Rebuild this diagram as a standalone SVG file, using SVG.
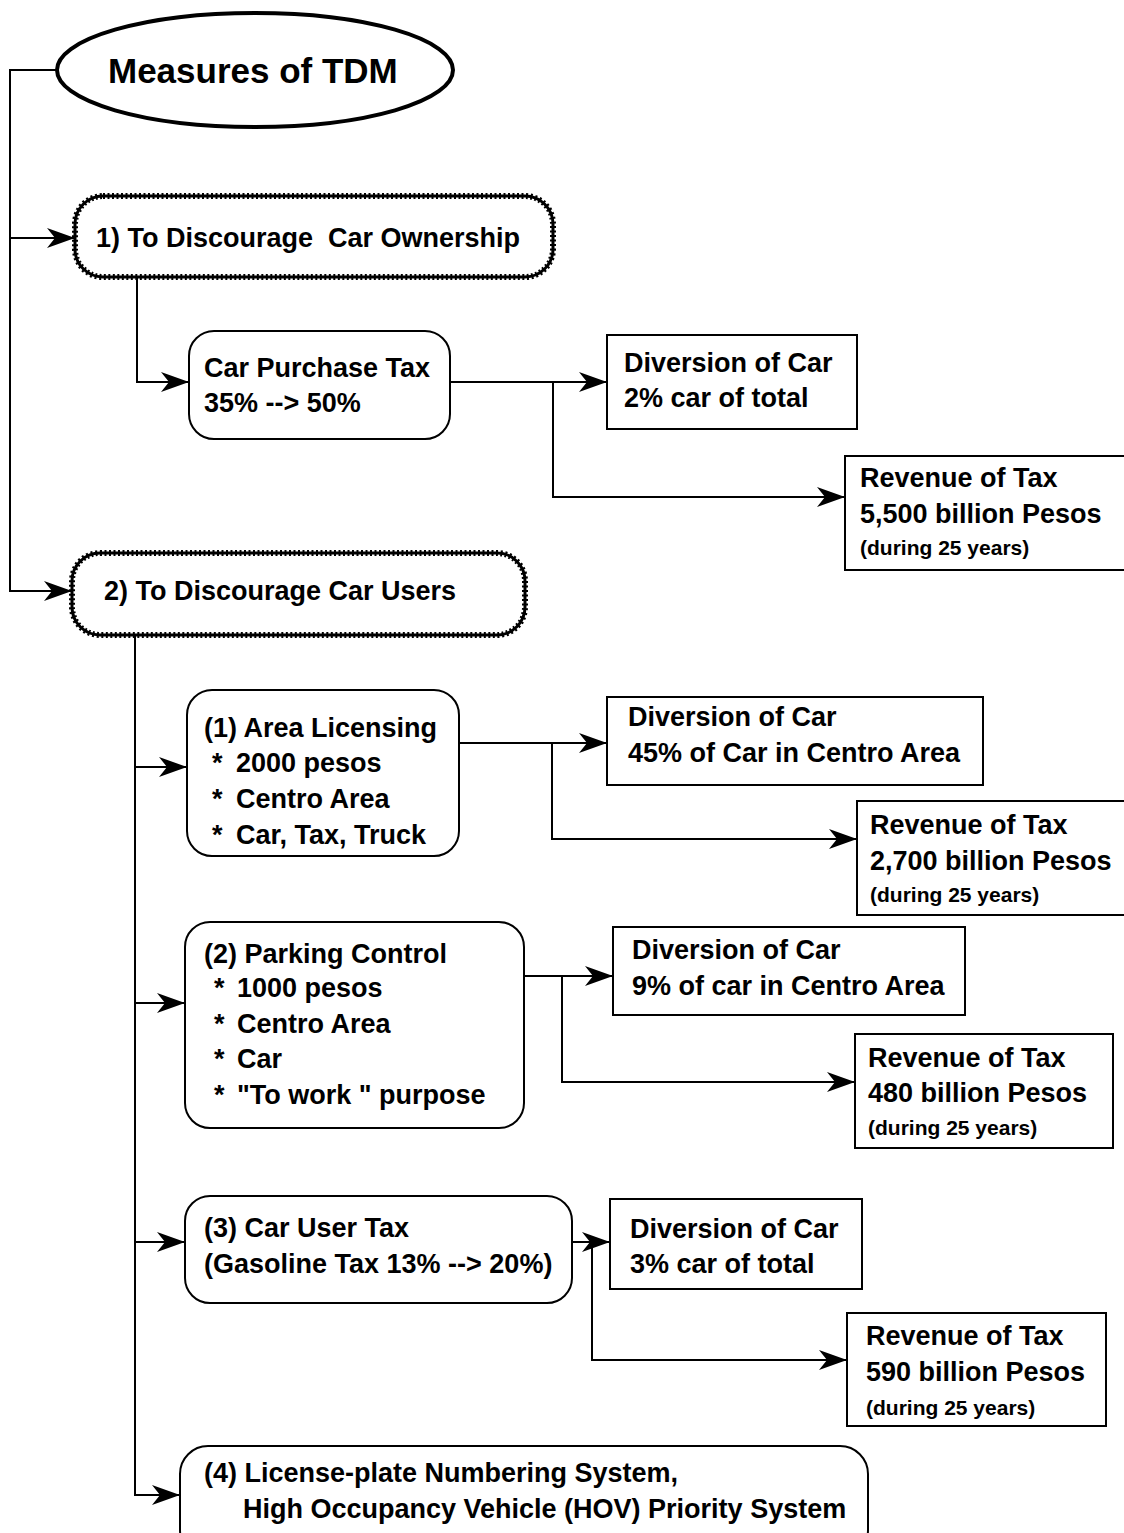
<svg xmlns="http://www.w3.org/2000/svg" width="1124" height="1533" viewBox="0 0 1124 1533">
<defs>
<style>
.t{font-family:"Liberation Sans",Arial,Helvetica,sans-serif;font-weight:bold;font-size:27px;fill:#000}
.s{font-size:21px}
.title{font-size:35px}
.rb{fill:#fff;stroke:#000;stroke-width:2}
.bx{fill:#fff;stroke:#000;stroke-width:2}
.hz{fill:#fff;stroke:#000;stroke-width:3}
.hzt{fill:none;stroke:#000;stroke-width:6;stroke-dasharray:2 2.5}
.ln{fill:none;stroke:#000;stroke-width:2;marker-end:url(#ah)}
</style>
<marker id="ah" markerUnits="userSpaceOnUse" markerWidth="30" markerHeight="24" refX="28" refY="12" orient="auto">
<path d="M0,2 L28,12 L0,22 L8,12 Z" fill="#000"/>
</marker>
</defs>
<rect width="1124" height="1533" fill="#fff"/>

<g id="connectors">
<path class="ln" d="M57,70 H10 V591 H72"/>
<path class="ln" d="M10,238 H75"/>
<path class="ln" d="M137,277 V382 H189"/>
<path class="ln" d="M450,382 H607"/>
<path class="ln" d="M553,382 V497 H845"/>
<path class="ln" d="M135,635 V1495 H180"/>
<path class="ln" d="M135,767 H187"/>
<path class="ln" d="M135,1003 H185"/>
<path class="ln" d="M135,1242 H185"/>
<path class="ln" d="M459,743 H607"/>
<path class="ln" d="M552,743 V839 H857"/>
<path class="ln" d="M524,976 H613"/>
<path class="ln" d="M562,976 V1082 H855"/>
<path class="ln" d="M572,1242 H610"/>
<path class="ln" d="M592,1242 V1360 H847"/>
</g>

<g id="tdm">
<ellipse cx="255" cy="70" rx="198" ry="57" fill="#fff" stroke="#000" stroke-width="4"/>
<text class="t title" x="108" y="83">Measures of TDM</text>
</g>

<g id="ownership">
<rect class="hz" x="75" y="196" width="478" height="81" rx="28"/>
<rect class="hzt" x="75" y="196" width="478" height="81" rx="28"/>
<text class="t" x="96" y="247" xml:space="preserve">1) To Discourage  Car Ownership</text>
</g>

<g id="purchase-tax">
<rect class="rb" x="189" y="331" width="261" height="108" rx="25"/>
<text class="t" x="204" y="377">Car Purchase Tax</text>
<text class="t" x="204" y="412">35% --&gt; 50%</text>
</g>

<g id="div1">
<rect class="bx" x="607" y="335" width="250" height="94"/>
<text class="t" x="624" y="372">Diversion of Car</text>
<text class="t" x="624" y="407">2% car of total</text>
</g>

<g id="rev1">
<rect class="bx" x="845" y="456" width="300" height="114"/>
<text class="t" x="860" y="487">Revenue of Tax</text>
<text class="t" x="860" y="523">5,500 billion Pesos</text>
<text class="t s" x="860" y="555">(during 25 years)</text>
</g>

<g id="users">
<rect class="hz" x="72" y="553" width="453" height="82" rx="28"/>
<rect class="hzt" x="72" y="553" width="453" height="82" rx="28"/>
<text class="t" x="104" y="600">2) To Discourage Car Users</text>
</g>

<g id="area-licensing">
<rect class="rb" x="187" y="690" width="272" height="166" rx="25"/>
<text class="t" x="204" y="737">(1) Area Licensing</text>
<text class="t"><tspan x="212" y="772">*</tspan><tspan x="236" y="772">2000 pesos</tspan></text>
<text class="t"><tspan x="212" y="808">*</tspan><tspan x="236" y="808">Centro Area</tspan></text>
<text class="t"><tspan x="212" y="844">*</tspan><tspan x="236" y="844">Car, Tax, Truck</tspan></text>
</g>

<g id="div2">
<rect class="bx" x="607" y="697" width="376" height="88"/>
<text class="t" x="628" y="726">Diversion of Car</text>
<text class="t" x="628" y="762">45% of Car in Centro Area</text>
</g>

<g id="rev2">
<rect class="bx" x="857" y="801" width="300" height="114"/>
<text class="t" x="870" y="834">Revenue of Tax</text>
<text class="t" x="870" y="870">2,700 billion Pesos</text>
<text class="t s" x="870" y="902">(during 25 years)</text>
</g>

<g id="parking">
<rect class="rb" x="185" y="922" width="339" height="206" rx="25"/>
<text class="t" x="204" y="963">(2) Parking Control</text>
<text class="t"><tspan x="214" y="997">*</tspan><tspan x="237" y="997">1000 pesos</tspan></text>
<text class="t"><tspan x="214" y="1033">*</tspan><tspan x="237" y="1033">Centro Area</tspan></text>
<text class="t"><tspan x="214" y="1068">*</tspan><tspan x="237" y="1068">Car</tspan></text>
<text class="t"><tspan x="214" y="1104">*</tspan><tspan x="237" y="1104">"To work " purpose</tspan></text>
</g>

<g id="div3">
<rect class="bx" x="613" y="927" width="352" height="88"/>
<text class="t" x="632" y="959">Diversion of Car</text>
<text class="t" x="632" y="995">9% of car in Centro Area</text>
</g>

<g id="rev3">
<rect class="bx" x="855" y="1034" width="258" height="114"/>
<text class="t" x="868" y="1067">Revenue of Tax</text>
<text class="t" x="868" y="1102">480 billion Pesos</text>
<text class="t s" x="868" y="1135">(during 25 years)</text>
</g>

<g id="user-tax">
<rect class="rb" x="185" y="1196" width="387" height="107" rx="25"/>
<text class="t" x="204" y="1237">(3) Car User Tax</text>
<text class="t" x="204" y="1273">(Gasoline Tax 13% --&gt; 20%)</text>
</g>

<g id="div4">
<rect class="bx" x="610" y="1199" width="252" height="90"/>
<text class="t" x="630" y="1238">Diversion of Car</text>
<text class="t" x="630" y="1273">3% car of total</text>
</g>

<g id="rev4">
<rect class="bx" x="847" y="1313" width="259" height="113"/>
<text class="t" x="866" y="1345">Revenue of Tax</text>
<text class="t" x="866" y="1381">590 billion Pesos</text>
<text class="t s" x="866" y="1415">(during 25 years)</text>
</g>

<g id="plate">
<rect class="rb" x="180" y="1446" width="688" height="112" rx="28"/>
<text class="t" x="204" y="1482">(4) License-plate Numbering System,</text>
<text class="t" x="243" y="1518">High Occupancy Vehicle (HOV) Priority System</text>
</g>
</svg>
